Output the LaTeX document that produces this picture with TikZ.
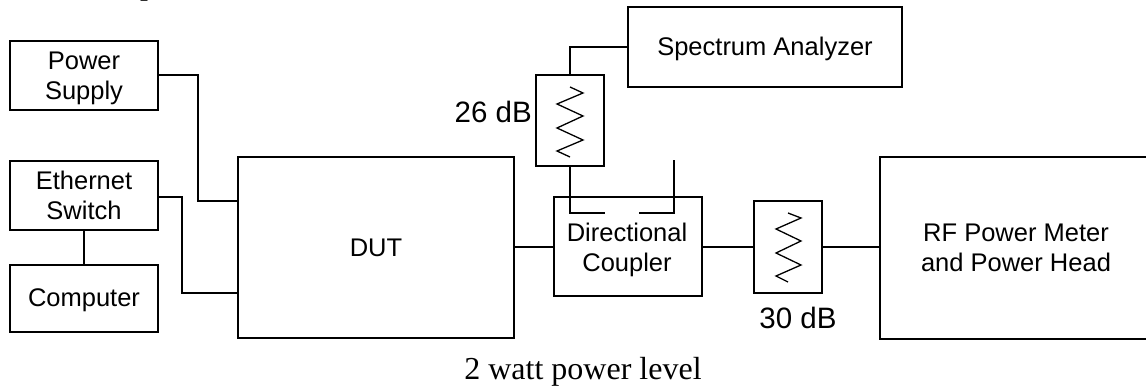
\documentclass[tikz,border=0pt]{standalone}
\usepackage{fontspec}
\setmainfont{Liberation Serif}
\setsansfont{Liberation Sans}
\tikzset{
  plainbox/.style={draw,line width=1.5pt,inner sep=0pt,align=center,font=\sffamily\fontsize{25.5}{30}\selectfont},
  box/.style={plainbox,execute at begin node={\rule{0pt}{22pt}}},
  wire/.style={line width=1.5pt},
  zig/.style={line width=1.3pt,line join=miter},
  lab/.style={font=\sffamily\fontsize{29.5}{32}\selectfont,inner sep=0pt},
  captxt/.style={font=\rmfamily\fontsize{32}{36}\selectfont,inner sep=0pt}
}
\begin{document}
\begin{tikzpicture}[x=1pt,y=-1pt]
\useasboundingbox (0,0) rectangle (1146,390);
\node[box,minimum width=148pt,minimum height=69pt] (ps) at (84,75.5) {Power\\\smash{Supply}};
\node[box,minimum width=148pt,minimum height=69pt] (es) at (84,195.5) {Ethernet\\Switch};
\node[box,minimum width=148pt,minimum height=67pt] (pc) at (84,298.5) {Computer};
\node[plainbox,minimum width=276pt,minimum height=181pt] (dut) at (376,247.5) {DUT};
\node[box,minimum width=274pt,minimum height=80pt] (sa) at (765,47) {Spectrum Analyzer};
\node[box,minimum width=68pt,minimum height=91pt] (a26) at (570,120.5) {};
\node[box,minimum width=148pt,minimum height=99pt] (dc) at (628,246.5) {};
\node[box,draw=none] (dct) at (627,247) {Directional\\\smash{Coupler}};
\node[box,minimum width=68pt,minimum height=92pt] (a30) at (788,247) {};
\node[box,minimum width=272pt,minimum height=182pt] (rf) at (1016,248) {RF Power Meter\\and Power Head};
\node[lab,anchor=east] (l26) at (532,112) {26 dB};
\node[lab] (l30) at (798,318) {30 dB};
\node[captxt] (cap1) at (583,372) {2 watt power level};
\node[captxt,anchor=base] (frag) at (148,-5.5) {p};
\coordinate (t1) at (605,213);
\coordinate (t2) at (639,213);
\coordinate (t3) at (674,213);
\coordinate (t4) at (674,160);
\coordinate (t5) at (570,213);
\draw[wire] (ps.east |- 0,75) -- (198,75) -- (198,201) -- (dut.west |- 0,201);
\draw[wire] (es.east |- 0,197) -- (182,197) -- (182,293) -- (dut.west |- 0,293);
\draw[wire] (es.south) -- (pc.north);
\draw[wire] (sa.west |- 0,47) -- (570,47) -- (a26.north);
\draw[wire] (a26.south) -- (t5) -- (t1);
\draw[wire] (t2) -- (t3) -- (t4);
\draw[wire] (dut.east |- 0,247) -- (dc.west |- 0,247);
\draw[wire] (dc.east |- 0,247) -- (a30.west |- 0,247);
\draw[wire] (a30.east |- 0,247) -- (rf.west |- 0,247);
\draw[zig] (570,87) -- (583,93) -- (557,104) -- (583,116) -- (557,128) -- (583,140) -- (557,151) -- (570,157);
\draw[zig] (788,213) -- (801,218) -- (776,229) -- (801,241) -- (776,253) -- (801,265) -- (776,276) -- (788,282);
\end{tikzpicture}
\end{document}
